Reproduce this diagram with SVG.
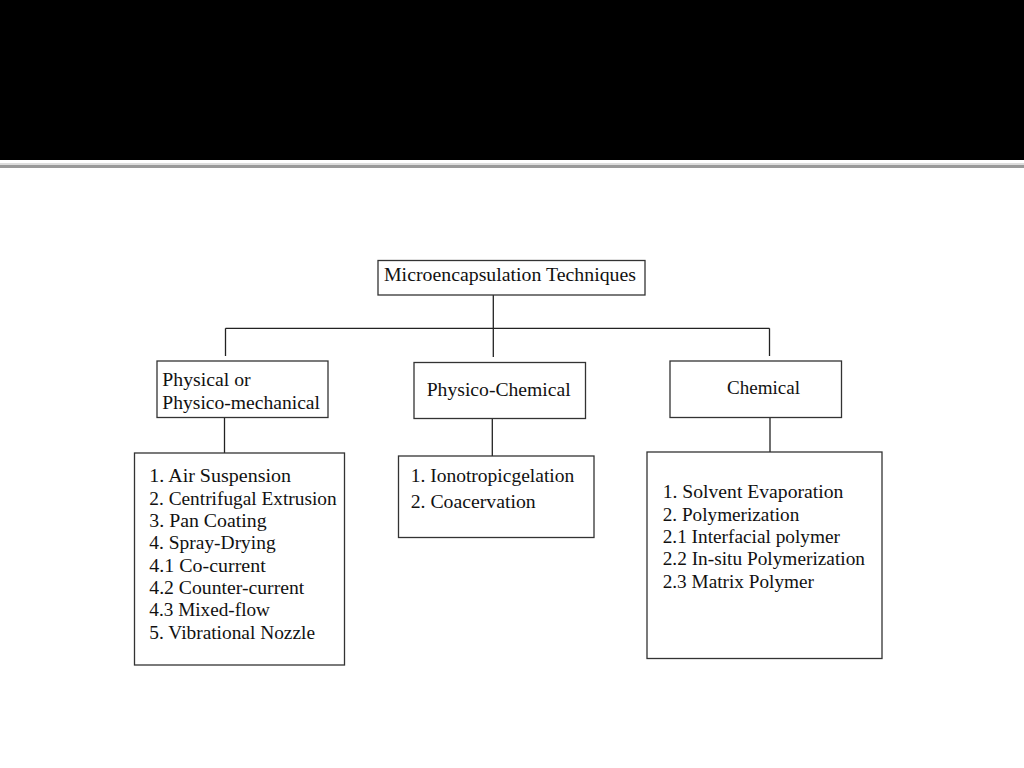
<svg xmlns="http://www.w3.org/2000/svg" width="1024" height="768" viewBox="0 0 1024 768">
<style>
.box{fill:#fff;stroke:#333;stroke-width:1.3}
.con{fill:none;stroke:#222;stroke-width:1.3}
text{font-family:"Liberation Serif","Times New Roman",serif;font-size:18.5px;fill:#111}
</style>
<rect x="0" y="0" width="1024" height="768" fill="#fff"/>
<rect x="0" y="0" width="1024" height="160" fill="#000"/>
<rect x="0" y="163" width="1024" height="2" fill="#ddd"/>
<rect x="0" y="165" width="1024" height="3" fill="#999"/>
<g id="connectors">
<line class="con" x1="493.3" y1="295" x2="493.3" y2="357"/>
<line class="con" x1="225.5" y1="328.3" x2="769.5" y2="328.3"/>
<line class="con" x1="225.5" y1="328.3" x2="225.5" y2="356"/>
<line class="con" x1="769.5" y1="328.3" x2="769.5" y2="356"/>
<line class="con" x1="224.5" y1="418" x2="224.5" y2="453"/>
<line class="con" x1="492.3" y1="418" x2="492.3" y2="456"/>
<line class="con" x1="770" y1="418" x2="770" y2="452"/>
</g>
<g id="root">
<rect class="box" x="378" y="260.5" width="267" height="34.5"/>
<text x="384" y="281" textLength="252" lengthAdjust="spacingAndGlyphs">Microencapsulation Techniques</text>
</g>
<g id="physical">
<rect class="box" x="157" y="361" width="171" height="56.5"/>
<text x="162.3" y="386" textLength="88.4" lengthAdjust="spacingAndGlyphs">Physical or</text>
<text x="162.3" y="408.5" textLength="157.7" lengthAdjust="spacingAndGlyphs">Physico-mechanical</text>
</g>
<g id="physico-chemical">
<rect class="box" x="414" y="362.5" width="171.5" height="56"/>
<text x="426.7" y="396" textLength="144" lengthAdjust="spacingAndGlyphs">Physico-Chemical</text>
</g>
<g id="chemical">
<rect class="box" x="670" y="361" width="171.5" height="56.5"/>
<text x="727" y="393.5" textLength="73" lengthAdjust="spacingAndGlyphs">Chemical</text>
</g>
<g id="physical-list">
<rect class="box" x="134.5" y="453" width="210" height="212"/>
<text x="149.3" y="482.3" textLength="141.7" lengthAdjust="spacingAndGlyphs">1. Air Suspension</text>
<text x="149.3" y="504.7" textLength="187.4" lengthAdjust="spacingAndGlyphs">2. Centrifugal Extrusion</text>
<text x="149.3" y="527" textLength="117.4" lengthAdjust="spacingAndGlyphs">3. Pan Coating</text>
<text x="149.3" y="549.4" textLength="126.4" lengthAdjust="spacingAndGlyphs">4. Spray-Drying</text>
<text x="149.3" y="571.7" textLength="116.4" lengthAdjust="spacingAndGlyphs">4.1 Co-current</text>
<text x="149.3" y="594" textLength="155" lengthAdjust="spacingAndGlyphs">4.2 Counter-current</text>
<text x="149.3" y="616.4" textLength="120.7" lengthAdjust="spacingAndGlyphs">4.3 Mixed-flow</text>
<text x="149.3" y="638.7" textLength="165.7" lengthAdjust="spacingAndGlyphs">5. Vibrational Nozzle</text>
</g>
<g id="physico-chemical-list">
<rect class="box" x="398.5" y="456" width="195.5" height="81.5"/>
<text x="410.7" y="481.7" textLength="163.6" lengthAdjust="spacingAndGlyphs">1. Ionotropicgelation</text>
<text x="410.7" y="507.7" textLength="125" lengthAdjust="spacingAndGlyphs">2. Coacervation</text>
</g>
<g id="chemical-list">
<rect class="box" x="647" y="452" width="235" height="206.5"/>
<text x="662.7" y="498.3" textLength="180.6" lengthAdjust="spacingAndGlyphs">1. Solvent Evaporation</text>
<text x="662.7" y="520.6" textLength="136.6" lengthAdjust="spacingAndGlyphs">2. Polymerization</text>
<text x="662.7" y="542.9" textLength="177.3" lengthAdjust="spacingAndGlyphs">2.1 Interfacial polymer</text>
<text x="662.7" y="565.2" textLength="202.3" lengthAdjust="spacingAndGlyphs">2.2 In-situ Polymerization</text>
<text x="662.7" y="587.5" textLength="151.3" lengthAdjust="spacingAndGlyphs">2.3 Matrix Polymer</text>
</g>
</svg>
